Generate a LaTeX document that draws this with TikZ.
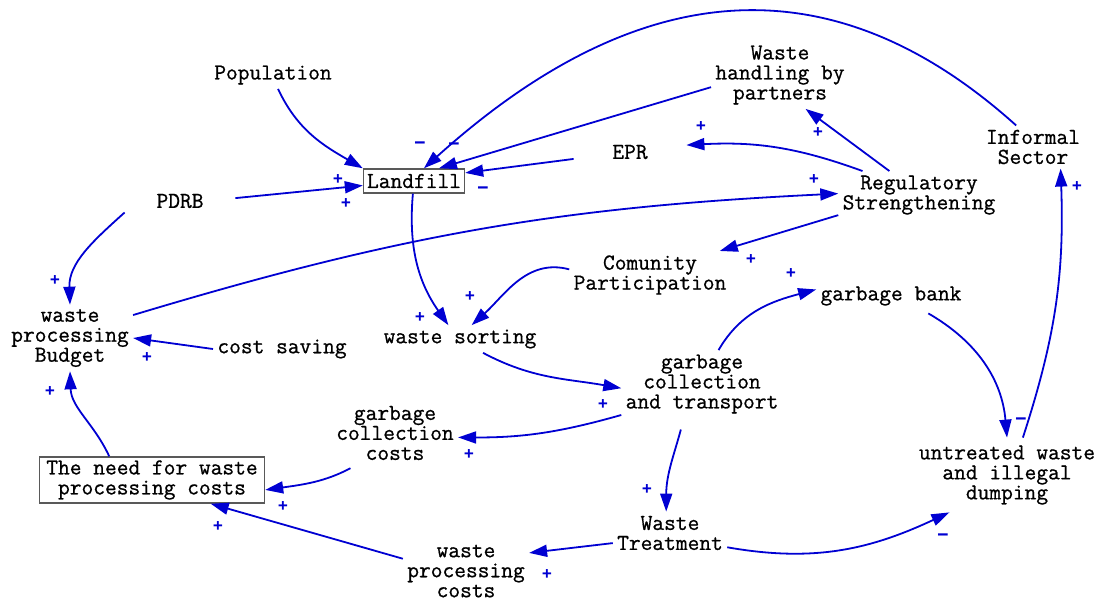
\documentclass[tikz,border=0pt]{standalone}
\usepackage{fontspec}
\newfontfamily\cldfont[FakeBold=0.8]{Latin Modern Mono}
\newfontfamily\polfont{Liberation Mono}
\usetikzlibrary{arrows.meta}
\definecolor{linkblue}{RGB}{0,0,210}
\begin{document}
\begin{tikzpicture}[x=0.5pt,y=-0.5pt,
  var/.style={font=\cldfont\fontsize{11.4}{10}\selectfont, align=center, inner sep=2pt},
  stock/.style={var, draw=black!65, fill=white, line width=0.7pt, inner sep=1.5pt},
  link/.style={draw=linkblue, line width=0.9pt, -{Triangle[length=9pt,width=6pt]}},
  pol/.style={text=linkblue, font=\polfont\bfseries\fontsize{8.5}{8.5}\selectfont, inner sep=0pt},
  neg/.style={pol, font=\polfont\bfseries\fontsize{11}{11}\selectfont}]
\path[use as bounding box, fill=white] (0,0) rectangle (1104,601);

\node[var] (pop) at (273,75) {Population};
\node[stock, minimum width=50.5pt, minimum height=12pt] (lf) at (414,181) {Landfill};
\node[var, minimum width=55pt] (pdrb) at (180,201) {PDRB};
\node[var] (wh) at (780,75) {Waste\\handling by\\partners};
\node[var, minimum width=56pt] (epr) at (630,152) {EPR};
\node[var] (inf) at (1033,147) {Informal\\Sector};
\node[var] (reg) at (919,195) {Regulatory\\Strengthening};
\node[var] (com) at (650,275) {Comunity\\Participation};
\node[var, minimum height=17pt] (gb) at (891,296) {garbage bank};
\node[var] (bud) at (70,338) {waste\\processing\\Budget};
\node[var] (cs) at (282,349) {cost saving};
\node[var] (ws) at (460,339) {waste sorting};
\node[var] (gct) at (702,384) {garbage\\collection\\and transport};
\node[var] (gcc) at (395,433) {garbage\\collection\\costs};
\node[stock, minimum width=112.5pt, minimum height=23pt] (need) at (152,480) {The need for waste\\processing costs};
\node[var] (wt) at (670,533) {Waste\\Treatment};
\node[var] (wpc) at (466,571) {waste\\processing\\costs};
\node[var, minimum height=37pt] (und) at (1007,475) {untreated waste\\and illegal\\dumping};

\draw[link] (pop.-70) to[out=-65,in=150] (lf.north west);
\draw[link] (pdrb.3) -- (lf.185);
\draw[link] (inf.128) to[out=138,in=42,looseness=1.15] (lf.52);
\draw[link] (wh.190) -- (lf.27);
\draw[link] (epr.187) -- (lf.9);
\draw[link] (lf.-95) to[out=-95,in=125] (ws.130);
\draw[link] (com.176) to[out=165,in=42] (ws.50);
\draw[link] (reg.157) to[out=160,in=3] (epr.7);
\draw[link] (reg.141) -- (wh.-53);
\draw[link] (bud.20) to[bend left=7] (reg.179);
\draw[link] (reg.194) -- (com.19);
\draw[link] (pdrb.south west) to[out=-138,in=92] (bud.north);
\draw[link] (cs.west) -- (bud.east);
\draw[link] (need.151) to[out=115,in=-88] (bud.south);
\draw[link] (ws.-31) to[out=-28,in=170] (gct.183);
\draw[link] (gct.64) to[out=60,in=195] (gb.175);
\draw[link] (gb.-25) to[out=-30,in=95] (und.90);
\draw[link] (und.67) to[out=72,in=-88] (inf.-38);
\draw[link] (gct.201) to[bend left=8] (gcc.-4);
\draw[link, shorten <=4pt] (gcc.-140) to[out=-152,in=8] (need.-5);
\draw[link] (wpc.169) -- (need.-22);
\draw[link, shorten <=6pt] (gct.-118) to[out=-105,in=90] (wt.100);
\draw[link] (wt.190) -- (wpc.16);
\draw[link] (wt.-14) to[out=-10,in=205] (und.213);

\node[pol] (p1) at (338,180) {+};
\node[pol] (p2) at (346,204) {+};
\node[neg] (p3) at (420,145) {\textendash};
\node[neg] (p4) at (454,146) {\textendash};
\node[neg] (p5) at (483,190) {\textendash};
\node[pol] (p6) at (420,318) {+};
\node[pol] (p7) at (470,297) {+};
\node[pol] (p8) at (701,127) {+};
\node[pol] (p9) at (818,133) {+};
\node[pol] (p10) at (814,180) {+};
\node[pol] (p11) at (751,260) {+};
\node[pol] (p12) at (55,281) {+};
\node[pol] (p13) at (147,358) {+};
\node[pol] (p14) at (50,392) {+};
\node[pol] (p15) at (603,405) {+};
\node[pol] (p16) at (791,274) {+};
\node[neg] (p17) at (1021,421) {\textendash};
\node[pol] (p18) at (1077,187) {+};
\node[pol] (p19) at (469,455) {+};
\node[pol] (p20) at (283,507) {+};
\node[pol] (p21) at (218,527) {+};
\node[pol] (p22) at (647,490) {+};
\node[pol] (p23) at (547,575) {+};
\node[neg] (p24) at (943,537) {\textendash};
\end{tikzpicture}
\end{document}
